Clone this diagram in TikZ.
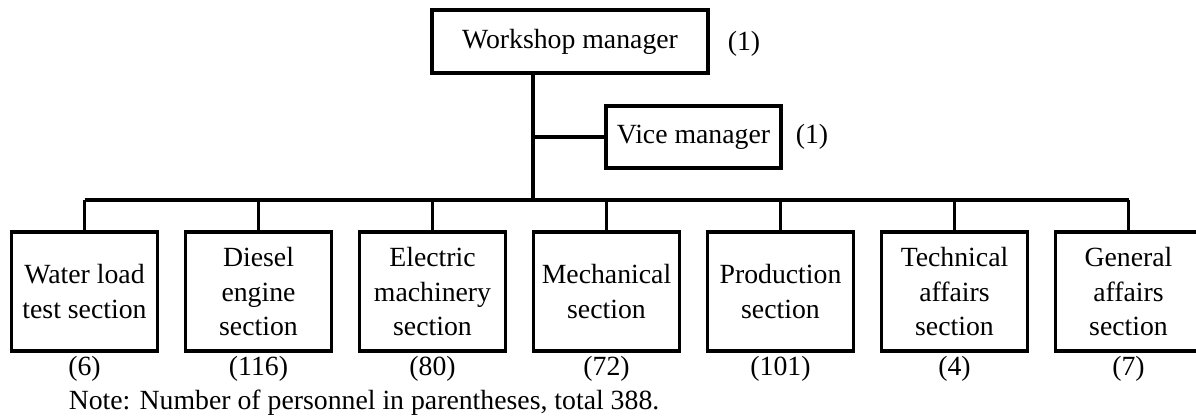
\documentclass[tikz,border=0pt]{standalone}
\usepackage{fontspec}
\setmainfont{Liberation Serif}
\usepackage{tikz}
\usetikzlibrary{
    positioning,
    calc
}
\newcommand{\orgfont}{\fontsize{15.8}{19.5}\selectfont}
\tikzset{
    orgbox/.style={draw, line width=2pt, rectangle, align=center, inner sep=2pt, font=\orgfont},
    secbox/.style={orgbox, minimum width=2.92cm, minimum height=2.38cm},
    headcount/.style={font=\orgfont, inner sep=1pt}
}

\begin{document}
\begin{tikzpicture}[x=0.02cm, y=-0.02cm, line width=2pt]
        \useasboundingbox (0,0) rectangle (1196,417);
        \coordinate (trunk) at (533,200);
        
        \node[orgbox, minimum width=5.52cm, minimum height=1.26cm] (wm) at (570,41.5) {Workshop manager};
        \node[headcount] (wmcount) at (744,44) {(1)};
        \node[orgbox, minimum width=3.5cm, minimum height=1.24cm] (vm) at (693.5,137) {Vice manager};
        \node[headcount] (vmcount) at (812,137) {(1)};
        
        \draw (wm.south -| trunk) -- (trunk);
        \draw (vm.west -| trunk) -- (vm.west);
        
        % Sections
        \foreach \sec/\txt/\num [count=\i] in {
            water/{Water load\\test section}/6,
            diesel/{Diesel\\engine\\section}/116,
            electric/{Electric\\machinery\\section}/80,
            mech/{Mechanical\\section}/72,
            prod/{Production\\section}/101,
            tech/{Technical\\affairs\\section}/4,
            general/{General\\affairs\\section}/7} {
            \pgfmathsetmacro{\xpos}{84.5+174*(\i-1)}
            \node[secbox] (\sec) at (\xpos,291.5) {\txt};
            \node[headcount] (\sec count) at (\xpos,369) {(\num)};
            \draw (\sec.north) -- (\sec.north |- trunk);
        }
        \draw (water.north |- trunk) -- (general.north |- trunk);
        
        \node[font=\orgfont, anchor=west, inner sep=0pt] (note) at (67,403) {Note: Number of personnel in parentheses, total 388.};
    \end{tikzpicture}
\end{document}
